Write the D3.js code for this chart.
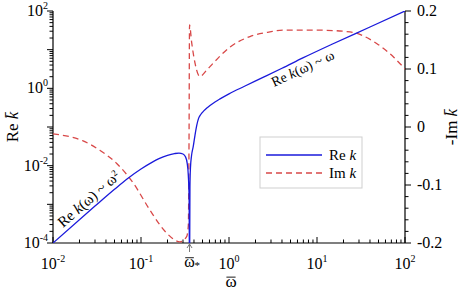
<!DOCTYPE html>
<html>
<head>
<meta charset="utf-8">
<script src="https://cdn.jsdelivr.net/npm/d3@7"></script>
<style>
	body { margin: 0; background: #fff; }
	svg { display: block; }
	text { font-family: "Liberation Serif", "DejaVu Serif", serif; fill: #000; }
</style>
</head>
<body>
<svg id="chart"></svg>
<script>
// Re k (left axis, log)
const reOmega = [0.01, 0.03, 0.05, 0.07, 0.1, 0.13, 0.16, 0.2, 0.24, 0.27, 0.3, 0.32, 0.335, 0.345, 0.352, 0.356, 0.36, 0.365, 0.375, 0.393, 0.411, 0.43, 0.45, 0.47, 0.49, 0.52, 0.56, 0.608, 0.7, 0.8, 1, 1.5, 2.5, 4, 7, 15, 40, 100];
const reValue = [1e-4, 9e-4, 2.45e-3, 4.6e-3, 8.2e-3, 0.0118, 0.0152, 0.0185, 0.0205, 0.0212, 0.02, 0.017, 0.0115, 0.0055, 0.0015, 1e-5, 0.003, 0.009, 0.018, 0.032, 0.062, 0.11, 0.165, 0.2, 0.228, 0.265, 0.31, 0.36, 0.45, 0.54, 0.72, 1.13, 1.97, 3.3, 6.2, 14, 38.5, 100];

// -Im k (right axis, linear)
const imOmega = [0.01, 0.022, 0.034, 0.053, 0.082, 0.126, 0.196, 0.277, 0.33, 0.345, 0.352, 0.356, 0.377, 0.411, 0.448, 0.467, 0.557, 0.66, 1.03, 1.73, 2.92, 4.1, 10, 23.7, 47.6, 73.6, 100];
const imValue = [-0.012, -0.024, -0.040, -0.063, -0.097, -0.143, -0.183, -0.198, -0.189, -0.17, 0.0, 0.176, 0.145, 0.110, 0.090, 0.087, 0.098, 0.110, 0.138, 0.156, 0.164, 0.167, 0.167, 0.164, 0.144, 0.121, 0.1];

const xDecades = [-2, -1, 0, 1, 2];
const yDecades = [-4, -2, 0, 2];
const rightTicks = [-0.2, -0.1, 0, 0.1, 0.2];
const rightLabels = ["-0.2", "-0.1", "0", "0.1", "0.2"];
const omegaStar = 0.356;

const width = 463, height = 291;
const margin = {top: 11, right: 58, bottom: 48, left: 53};
const iw = width - margin.left - margin.right;
const ih = height - margin.top - margin.bottom;

const blue = "#1a1adb";
const red = "#d84848";

const x = d3.scaleLog().domain([1e-2, 1e2]).range([0, iw]);
const y = d3.scaleLog().domain([1e-4, 1e2]).range([ih, 0]);
const y2 = d3.scaleLinear().domain([-0.2, 0.2]).range([ih, 0]);

const svg = d3.select("#chart").attr("width", width).attr("height", height);
const g = svg.append("g").attr("transform", `translate(${margin.left},${margin.top})`);

svg.append("defs").append("clipPath").attr("id", "clip")
	.append("rect").attr("x", 0).attr("y", 0).attr("width", iw).attr("height", ih);

// minor tick values for log axes
function logMinor(lo, hi) {
	const out = [];
	for (let e = lo; e < hi; e++) {
		for (let m = 1; m < 10; m++) out.push(m * Math.pow(10, e));
	}
	out.push(Math.pow(10, hi));
	return out;
}
const isDecade = d => Math.abs(Math.log10(d) - Math.round(Math.log10(d))) < 1e-9;

// omega with an overbar, drawn as text plus a short line
function omegaBar(sel, cx, baseline, size) {
	sel.append("text").attr("x", cx).attr("y", baseline)
		.attr("text-anchor", "middle").attr("font-size", size).text("\u03C9");
	sel.append("line")
		.attr("x1", cx - size * 0.27).attr("x2", cx + size * 0.27)
		.attr("y1", baseline - size * 0.58).attr("y2", baseline - size * 0.58)
		.attr("stroke", "#000").attr("stroke-width", 0.9);
}

// bottom axis
const xMinor = logMinor(-2, 2);
g.append("line").attr("x1", 0).attr("x2", iw).attr("y1", ih).attr("y2", ih)
	.attr("stroke", "#000").attr("stroke-width", 1.2);
g.selectAll(".xt").data(xMinor).join("line")
	.attr("x1", d => x(d)).attr("x2", d => x(d))
	.attr("y1", ih)
	.attr("y2", d => isDecade(d) ? ih - 6 : ih - 3.5)
	.attr("stroke", "#000").attr("stroke-width", 1);

xDecades.forEach(e => {
	const t = g.append("text").attr("x", x(Math.pow(10, e))).attr("y", ih + 26)
		.attr("text-anchor", "middle").attr("font-size", 16);
	t.append("tspan").text("10");
	t.append("tspan").attr("dy", -7).attr("font-size", 10).text(String(e));
});

// omega star marker
g.append("line").attr("x1", x(omegaStar)).attr("x2", x(omegaStar))
	.attr("y1", ih + 2).attr("y2", ih + 9).attr("stroke", "#555").attr("stroke-width", 0.8);
g.append("path")
	.attr("d", `M${x(omegaStar) - 2.5},${ih + 5} L${x(omegaStar)},${ih + 1} L${x(omegaStar) + 2.5},${ih + 5}`)
	.attr("fill", "none").attr("stroke", "#555").attr("stroke-width", 0.8);
omegaBar(g, x(omegaStar), ih + 24, 16);
g.append("text").attr("x", x(omegaStar) + 5).attr("y", ih + 26).attr("font-size", 11).text("*");

// left axis
const yMinor = logMinor(-4, 2);
g.append("line").attr("x1", 0).attr("x2", 0).attr("y1", 0).attr("y2", ih)
	.attr("stroke", "#000").attr("stroke-width", 1.2);
g.selectAll(".yt").data(yMinor).join("line")
	.attr("x1", 0)
	.attr("x2", d => isDecade(d) ? -6 : -3.5)
	.attr("y1", d => y(d)).attr("y2", d => y(d))
	.attr("stroke", "#000").attr("stroke-width", 1);

yDecades.forEach(e => {
	const t = g.append("text").attr("x", -5).attr("y", y(Math.pow(10, e)) + 5)
		.attr("text-anchor", "end").attr("font-size", 16);
	t.append("tspan").text("10");
	t.append("tspan").attr("dy", -7).attr("font-size", 10).text(String(e));
});

// right axis
g.append("line").attr("x1", iw).attr("x2", iw).attr("y1", 0).attr("y2", ih)
	.attr("stroke", "#000").attr("stroke-width", 1.2);
const rMinor = d3.range(-0.2, 0.2001, 0.02);
g.selectAll(".rt").data(rMinor).join("line")
	.attr("x1", iw)
	.attr("x2", (d, i) => i % 5 === 0 ? iw + 6 : iw + 3.5)
	.attr("y1", d => y2(d)).attr("y2", d => y2(d))
	.attr("stroke", "#000").attr("stroke-width", 1);
g.selectAll(".rl").data(rightTicks).join("text")
	.attr("x", iw + 12).attr("y", d => y2(d) + 5)
	.attr("font-size", 16)
	.text((d, i) => rightLabels[i]);

// axis titles
const lt = svg.append("text").attr("transform", `translate(18,${margin.top + ih / 2}) rotate(-90)`)
	.attr("text-anchor", "middle").attr("font-size", 17);
lt.append("tspan").text("Re ");
lt.append("tspan").attr("font-style", "italic").text("k\u0304");

const rt = svg.append("text").attr("transform", `translate(457,${margin.top + ih / 2}) rotate(-90)`)
	.attr("text-anchor", "middle").attr("font-size", 17);
rt.append("tspan").text("-Im ");
rt.append("tspan").attr("font-style", "italic").text("k\u0304");

omegaBar(svg, 231, 287, 17);

// curves
const plot = g.append("g").attr("clip-path", "url(#clip)");

const reLine = d3.line()
	.x((d, i) => x(reOmega[i]))
	.y(d => y(d))
	.curve(d3.curveMonotoneX);

const imLine = d3.line()
	.x((d, i) => x(imOmega[i]))
	.y(d => y2(d))
	.curve(d3.curveMonotoneX);

plot.append("path").datum(imValue)
	.attr("fill", "none").attr("stroke", red).attr("stroke-width", 1.3)
	.attr("stroke-dasharray", "6,4")
	.attr("d", imLine);

plot.append("path").datum(reValue)
	.attr("fill", "none").attr("stroke", blue).attr("stroke-width", 1.3)
	.attr("d", reLine);

// curve annotations
const a1 = g.append("text").attr("transform", `translate(10,217) rotate(-41)`).attr("font-size", 15);
a1.append("tspan").text("Re ");
a1.append("tspan").attr("font-style", "italic").text("k");
a1.append("tspan").text("(\u03C9) ~ \u03C9");
a1.append("tspan").attr("dy", -5).attr("font-size", 9).text("2");

const a2 = g.append("text").attr("transform", `translate(221,76) rotate(-25)`).attr("font-size", 14);
a2.append("tspan").text("Re ");
a2.append("tspan").attr("font-style", "italic").text("k");
a2.append("tspan").text("(\u03C9) ~ \u03C9");

// legend
const lg = svg.append("g").attr("transform", "translate(260,137)");
lg.append("rect").attr("width", 102).attr("height", 51)
	.attr("fill", "#fff").attr("stroke", "#cfcfcf").attr("stroke-width", 1);
lg.append("line").attr("x1", 6).attr("x2", 62).attr("y1", 18).attr("y2", 18)
	.attr("stroke", blue).attr("stroke-width", 1.3);
lg.append("line").attr("x1", 6).attr("x2", 62).attr("y1", 36).attr("y2", 36)
	.attr("stroke", red).attr("stroke-width", 1.3).attr("stroke-dasharray", "6,4");
const l1 = lg.append("text").attr("x", 69).attr("y", 23).attr("font-size", 15);
l1.append("tspan").text("Re ");
l1.append("tspan").attr("font-style", "italic").text("k");
const l2 = lg.append("text").attr("x", 69).attr("y", 41).attr("font-size", 15);
l2.append("tspan").text("Im ");
l2.append("tspan").attr("font-style", "italic").text("k");
</script>
</body>
</html>
